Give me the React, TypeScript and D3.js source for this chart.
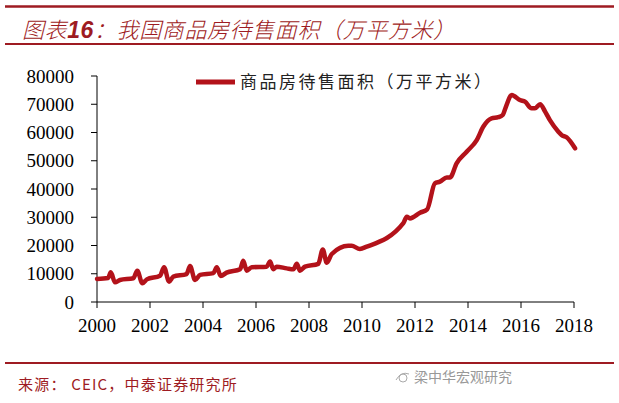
import { scaleLinear, line, curveMonotoneX } from "d3";

const width = 619;
const height = 403;

// values: decimal year, 万平方米
const years = [
  2000.0, 2000.42, 2000.52, 2000.68, 2000.87, 2001.37, 2001.52, 2001.71, 2001.88,
  2002.38, 2002.53, 2002.72, 2002.88, 2003.38, 2003.51, 2003.7, 2003.89,
  2004.39, 2004.52, 2004.67, 2004.89, 2005.4, 2005.52, 2005.65, 2005.84,
  2006.4, 2006.53, 2006.65, 2006.78, 2007.16, 2007.41, 2007.54, 2007.66, 2007.85,
  2008.35, 2008.52, 2008.67, 2008.86, 2009.48, 2009.61, 2009.92, 2010.18,
  2011.56, 2011.69, 2011.81, 2012.19, 2012.46, 2012.75, 2012.94, 2013.2, 2013.32,
  2013.57, 2013.95, 2014.33, 2014.58, 2014.89, 2015.14, 2015.31, 2015.43,
  2015.65, 2015.74, 2015.96, 2016.15, 2016.4, 2016.53, 2016.72, 2016.91,
  2017.09, 2017.41, 2017.53, 2017.72, 2018.04,
];
const area = [
  8140, 8500, 10500, 7000, 7800, 8400, 11100, 6600, 8000,
  9300, 12300, 7200, 9000, 9900, 12700, 7800, 9600,
  10200, 12300, 9200, 10400, 11600, 14600, 11100, 12300,
  12500, 14300, 11600, 12500, 11900, 11600, 13500, 11100, 12500,
  13500, 18600, 13900, 17000, 19900, 19900, 18800, 19600,
  27900, 30200, 29600, 31600, 32800, 42000, 42600, 44100, 44100,
  49100, 53200, 57300, 62100, 65000, 65400, 66200, 69100,
  73300, 72900, 71500, 70900, 68600, 68600, 70000, 67400,
  64400, 60300, 59100, 58300, 54400,
];

const yTicks = [0, 10000, 20000, 30000, 40000, 50000, 60000, 70000, 80000];
const xTicks = [2000, 2002, 2004, 2006, 2008, 2010, 2012, 2014, 2016, 2018];

const seriesName = "商品房待售面积（万平方米）";
const titleText = ["图表", "16", "：我国商品房待售面积（万平方米）"];
const sourceText = "来源： CEIC，中泰证券研究所";
const markText = "梁中华宏观研究";

const red = "#9e1b22";
const lineColor = "#b3121a";

const x = scaleLinear().domain([2000, 2018]).range([97, 574]);
const y = scaleLinear().domain([0, 80000]).range([302, 76]);

const path = line<number>()
  .x((d, i) => x(years[i]))
  .y((d) => y(d))
  .curve(curveMonotoneX);

export default function App() {
  return (
    <svg
      width={width}
      height={height}
      style={{ position: "absolute", left: 0, top: 0, background: "white" }}
    >
      {/* header */}
      <line x1={5} x2={614} y1={6.5} y2={6.5} stroke={red} strokeWidth={2.5} />
      <text
        x={22}
        y={38}
        fill={red}
        fontSize={22}
        fontStyle="italic"
        letterSpacing={0.6}
        fontWeight={300}
        fontFamily="'Noto Sans CJK SC', sans-serif"
      >
        <tspan>{titleText[0]}</tspan>
        <tspan fontWeight="bold" fontFamily="'Liberation Sans', Arial, sans-serif" fontSize={23}>
          {titleText[1]}
        </tspan>
        <tspan>{titleText[2]}</tspan>
      </text>
      <line x1={5} x2={614} y1={44} y2={44} stroke={red} strokeWidth={2} />

      {/* axes */}
      <line x1={97} x2={97} y1={y(80000)} y2={y(0)} stroke="black" strokeWidth={1} />
      <line x1={97} x2={574} y1={y(0)} y2={y(0)} stroke="black" strokeWidth={1} />
      {yTicks.map((t) => (
        <g key={t}>
          <line x1={91} x2={97} y1={y(t)} y2={y(t)} stroke="black" />
          <text
            x={74}
            y={y(t)}
            dy="0.35em"
            textAnchor="end"
            fontSize={19}
            fontFamily="'Liberation Serif', 'Times New Roman', serif"
          >
            {t}
          </text>
        </g>
      ))}
      {xTicks.map((t) => (
        <g key={t}>
          <line x1={x(t)} x2={x(t)} y1={y(0)} y2={y(0) + 6} stroke="black" />
          <text
            x={x(t)}
            y={332}
            textAnchor="middle"
            fontSize={19}
            fontFamily="'Liberation Serif', 'Times New Roman', serif"
          >
            {t}
          </text>
        </g>
      ))}

      {/* series */}
      <path
        d={path(area) ?? ""}
        fill="none"
        stroke={lineColor}
        strokeWidth={4.5}
        strokeLinejoin="round"
        strokeLinecap="round"
      />

      {/* legend */}
      <line x1={196} x2={235} y1={82} y2={82} stroke={lineColor} strokeWidth={5} />
      <text
        x={240}
        y={82}
        dy="0.36em"
        fontSize={17}
        letterSpacing={2.5}
        fill="#222"
        fontFamily="'Noto Sans CJK SC', sans-serif"
      >
        {seriesName}
      </text>

      {/* footer */}
      <line x1={5} x2={614} y1={363} y2={363} stroke={red} strokeWidth={2} />
      <text
        x={18}
        y={390}
        fill={red}
        fontSize={15}
        letterSpacing={1.2}
        fontFamily="'Noto Sans CJK SC', sans-serif"
      >
        {sourceText}
      </text>
      <g stroke="#aaa" fill="none" strokeWidth={1}>
        <path d="M396,380 q5,-9 13,-6" />
        <circle cx={403} cy={378} r={4} />
      </g>
      <text
        x={414}
        y={382}
        fill="#999"
        fontSize={14}
        fontFamily="'Noto Sans CJK SC', sans-serif"
      >
        {markText}
      </text>
    </svg>
  );
}
